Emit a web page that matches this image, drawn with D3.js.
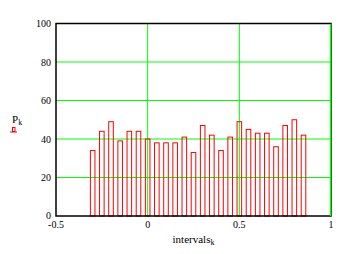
<!DOCTYPE html>
<html><head><meta charset="utf-8">
<script src="https://cdn.jsdelivr.net/npm/d3@7"></script>
<style>body{margin:0;background:#fff}svg{display:block}</style>
</head><body>
<script>
const intervals = [-0.3,-0.25,-0.2,-0.15,-0.1,-0.05,0,0.05,0.1,0.15,0.2,0.25,0.3,0.35,0.4,0.45,0.5,0.55,0.6,0.65,0.7,0.75,0.8,0.85];
const counts = [34,44,49,39,44,44,40,38,38,38,41,33,47,42,34,41,49,45,43,43,36,47,50,42];
const xTicks = [-0.5,0,0.5,1];
const xTickLabels = ["-0.5","0","0.5","1"];
const yTicks = [0,20,40,60,80,100];

const W=342,H=254;
const m={l:56,r:11,t:23.5,b:38};
const svg=d3.select("body").append("svg").attr("width",W).attr("height",H);
const x=d3.scaleLinear().domain([-0.5,1]).range([m.l,W-m.r]);
const y=d3.scaleLinear().domain([0,100]).range([H-m.b,m.t]);
const font="'Liberation Serif','Times New Roman',serif";

// gridlines
svg.append("g").selectAll("line").data([20,40,60,80]).join("line")
  .attr("x1",x(-0.5)).attr("x2",x(1)).attr("y1",d=>y(d)).attr("y2",d=>y(d))
  .attr("stroke","#00ff00").attr("stroke-width",1);
svg.append("g").selectAll("line").data([0,0.5]).join("line")
  .attr("x1",d=>x(d)).attr("x2",d=>x(d)).attr("y1",y(0)).attr("y2",y(100))
  .attr("stroke","#00ff00").attr("stroke-width",1);

// bars
const bw=x(0.025)-x(0);
svg.append("g").selectAll("rect").data(intervals).join("rect")
  .attr("x",(d)=>x(d)-bw/2).attr("width",bw)
  .attr("y",(d,i)=>y(counts[i])).attr("height",(d,i)=>y(0)-y(counts[i]))
  .attr("fill","none").attr("stroke","#ff0000").attr("stroke-width",1);

// frame
svg.append("rect").attr("x",x(-0.5)).attr("y",y(100)).attr("width",x(1)-x(-0.5)).attr("height",y(0)-y(100))
  .attr("fill","none").attr("stroke","#000").attr("stroke-width",1.5);
svg.append("line").attr("x1",x(1)-0.5).attr("x2",x(1)-0.5).attr("y1",y(100)+0.5).attr("y2",y(0))
  .attr("stroke","#00ff00").attr("stroke-width",1.5);

// y tick labels
svg.append("g").selectAll("text").data(yTicks).join("text")
  .attr("x",51).attr("y",d=>y(d)+(d===0?2.5:3.5)).attr("text-anchor","end")
  .attr("font-family",font).attr("font-size",10).attr("fill","#000").text(d=>d);
// x tick labels
svg.append("g").selectAll("text").data(xTicks).join("text")
  .attr("x",d=>x(d)).attr("y",228).attr("text-anchor","middle")
  .attr("font-family",font).attr("font-size",10).attr("fill","#000").text((d,i)=>xTickLabels[i]);

// axis titles
const yl=svg.append("text").attr("x",12).attr("y",123).attr("font-family",font).attr("font-size",11).attr("fill","#000");
yl.append("tspan").text("P");
yl.append("tspan").attr("font-size",8).attr("dy",2).text("k");
// legend symbol
svg.append("rect").attr("x",12.5).attr("y",127.5).attr("width",2.5).attr("height",4).attr("fill","none").attr("stroke","#ff0000").attr("stroke-width",1);
svg.append("line").attr("x1",10).attr("x2",17).attr("y1",132).attr("y2",132).attr("stroke","#ff0000").attr("stroke-width",1);

const xl=svg.append("text").attr("x",(x(-0.5)+x(1))/2).attr("y",243).attr("text-anchor","middle").attr("font-family",font).attr("font-size",11).attr("fill","#000");
xl.append("tspan").text("intervals");
xl.append("tspan").attr("font-size",8).attr("dy",2).text("k");
</script>
</body></html>
